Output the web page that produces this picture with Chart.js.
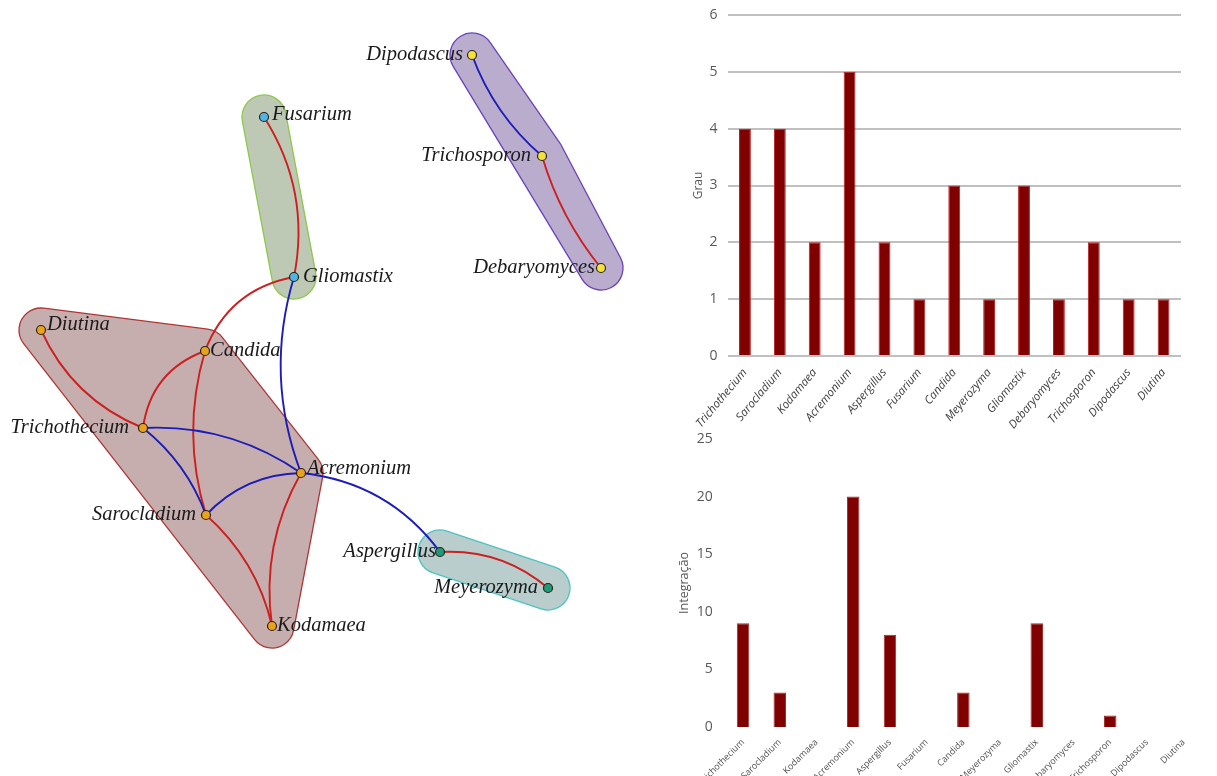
<!DOCTYPE html>
<html><head><meta charset="utf-8">
<script src="https://cdn.jsdelivr.net/npm/chart.js@4.4.1/dist/chart.umd.min.js"></script>
<style>
html,body{margin:0;padding:0;background:#fff;overflow:hidden;width:1217px;height:776px;}
.box{position:absolute;}
</style></head><body>
<div class="box" style="left:0;top:0;width:680px;height:776px"><canvas id="net"></canvas></div>
<div class="box" style="left:680px;top:0;width:537px;height:430px"><canvas id="grau"></canvas></div>
<div class="box" style="left:660px;top:430px;width:557px;height:346px"><canvas id="integ"></canvas></div>
<script>
// ---------- bar chart data ----------
const categories = ['Trichothecium','Sarocladium','Kodamaea','Acremonium','Aspergillus','Fusarium','Candida','Meyerozyma','Gliomastix','Debaryomyces','Trichosporon','Dipodascus','Diutina'];
const grauValues = [4,4,2,5,2,1,3,1,3,1,2,1,1];
const integracaoValues = [9,3,0,20,8,0,3,0,9,0,1,0,0];
const grauTicks = [0,1,2,3,4,5,6];
const integracaoTicks = [0,5,10,15,20,25];

// ---------- network data ----------
const nodeNames = ['Dipodascus','Trichosporon','Debaryomyces','Fusarium','Gliomastix','Diutina','Candida','Trichothecium','Acremonium','Sarocladium','Kodamaea','Aspergillus','Meyerozyma'];
const nodeX = [472,542,601,264,294,41,205,143,301,206,272,440,548];
const nodeY = [55,156,268,117,277,330,351,428,473,515,626,552,588];
const nodeGroup = [0,0,0,1,1,2,2,2,2,2,2,3,3];
const edgeFrom = ['Dipodascus','Trichosporon','Fusarium','Gliomastix','Gliomastix','Diutina','Candida','Candida','Trichothecium','Trichothecium','Sarocladium','Sarocladium','Acremonium','Acremonium','Aspergillus'];
const edgeTo   = ['Trichosporon','Debaryomyces','Gliomastix','Candida','Acremonium','Trichothecium','Trichothecium','Sarocladium','Acremonium','Sarocladium','Acremonium','Kodamaea','Kodamaea','Aspergillus','Meyerozyma'];
const edgeKind = ['blue','red','red','red','blue','red','red','red','blue','blue','blue','red','red','blue','red'];

// ---------- styles ----------
const edgeBend = [0.13,0.1,-0.2,0.28,0.17,0.2,0.3,0.15,-0.17,-0.14,-0.21,-0.16,0.17,-0.22,-0.2];
const labelSide = ['L','L','L','R','R','R','R','L','R','L','R','L','L'];
const labelGap  = [9,11,6,8,9,6,5,14,6,10,5,4,10];
const labelDy   = [0,0,0,-2,0,-5,0,0,-4,0,0,0,0];
const groupNodeColor = ['#f2e23a','#4fb4e6','#e8a21c','#1f9a78'];
const groupHullFill = ['rgba(185,172,204,1)','rgba(190,201,181,1)','rgba(198,174,174,1)','rgba(185,205,205,1)'];
const groupHullStroke = ['#6a40c0','#8cc84a','#b03434','#4cc4c4'];
const edgeColors = {red:'#cc2020', blue:'#1c1cb8'};
const hullPad = 22;

const idx = n => nodeNames.indexOf(n);

function convexHull(pts){
  const p = pts.slice().sort((a,b)=>a.x-b.x||a.y-b.y);
  if (p.length < 3) return p;
  const cross=(o,a,b)=>(a.x-o.x)*(b.y-o.y)-(a.y-o.y)*(b.x-o.x);
  const lo=[],up=[];
  for(const q of p){while(lo.length>=2&&cross(lo[lo.length-2],lo[lo.length-1],q)<=0)lo.pop();lo.push(q);}
  for(let i=p.length-1;i>=0;i--){const q=p[i];while(up.length>=2&&cross(up[up.length-2],up[up.length-1],q)<=0)up.pop();up.push(q);}
  up.pop();lo.pop();return lo.concat(up);
}

const netPlugin = {
  id:'netPlugin',
  beforeDatasetsDraw(chart){
    const ctx = chart.ctx, xs = chart.scales.x, ys = chart.scales.y;
    const P = i => ({x: xs.getPixelForValue(nodeX[i]), y: ys.getPixelForValue(nodeY[i])});
    // hulls
    for (let g=0; g<groupHullFill.length; g++){
      const pts = nodeNames.map((n,i)=>i).filter(i=>nodeGroup[i]===g).map(P);
      let h = convexHull(pts);
      let area=0; for(let i=0;i<h.length;i++){const a=h[i],b=h[(i+1)%h.length];area+=a.x*b.y-b.x*a.y;}
      if (area<0) h=h.reverse();
      const n=h.length;
      ctx.save(); ctx.beginPath();
      for (let i=0;i<n;i++){
        const prev=h[(i-1+n)%n], cur=h[i], next=h[(i+1)%n];
        const d1={x:cur.x-prev.x,y:cur.y-prev.y}, d2={x:next.x-cur.x,y:next.y-cur.y};
        const a1=Math.atan2(-d1.x,d1.y), a2=Math.atan2(-d2.x,d2.y);
        ctx.arc(cur.x,cur.y,hullPad,a1,a2,false);
      }
      ctx.closePath();
      ctx.fillStyle=groupHullFill[g]; ctx.fill();
      ctx.lineWidth=1.3; ctx.strokeStyle=groupHullStroke[g]; ctx.stroke();
      ctx.restore();
    }
    // edges
    ctx.save(); ctx.lineWidth=1.9; ctx.lineCap='round';
    edgeFrom.forEach((f,k)=>{
      const a=P(idx(f)), b=P(idx(edgeTo[k]));
      const dx=b.x-a.x, dy=b.y-a.y, len=Math.hypot(dx,dy);
      const nx=-dy/len, ny=dx/len, off=edgeBend[k]*len;
      const cx=(a.x+b.x)/2+nx*off, cy=(a.y+b.y)/2+ny*off;
      ctx.beginPath(); ctx.moveTo(a.x,a.y); ctx.quadraticCurveTo(cx,cy,b.x,b.y);
      ctx.strokeStyle=edgeColors[edgeKind[k]]; ctx.stroke();
    });
    ctx.restore();
  },
  afterDatasetsDraw(chart){
    const ctx = chart.ctx, xs = chart.scales.x, ys = chart.scales.y;
    ctx.save();
    ctx.font='italic 20.5px "Liberation Serif"'; ctx.fillStyle='#1a1a1a'; ctx.textBaseline='middle';
    nodeNames.forEach((n,i)=>{
      const x=xs.getPixelForValue(nodeX[i]), y=ys.getPixelForValue(nodeY[i])+labelDy[i];
      if (labelSide[i]==='L'){ctx.textAlign='right'; ctx.fillText(n,x-labelGap[i],y);}
      else {ctx.textAlign='left'; ctx.fillText(n,x+labelGap[i],y);}
    });
    ctx.restore();
  }
};

new Chart(document.getElementById('net'), {
  type:'scatter',
  data:{datasets: groupNodeColor.map((c,g)=>({
    data: nodeNames.map((n,i)=>i).filter(i=>nodeGroup[i]===g).map(i=>({x:nodeX[i],y:nodeY[i]})),
    pointRadius:4.5, pointBackgroundColor:c, pointBorderColor:'#2b2210', pointBorderWidth:1.2, showLine:false
  }))},
  options:{responsive:true, maintainAspectRatio:false, animation:false, layout:{padding:0, autoPadding:false},
    plugins:{legend:{display:false}, tooltip:{enabled:false}},
    scales:{x:{type:'linear',min:0,max:680,display:false}, y:{type:'linear',min:0,max:776,reverse:true,display:false}}},
  plugins:[netPlugin]
});

new Chart(document.getElementById('grau'), {
  type:'bar',
  data:{labels:categories, datasets:[{data:grauValues, backgroundColor:'#800000', borderColor:'#b82020', borderWidth:1, barPercentage:0.34, categoryPercentage:1}]},
  options:{responsive:true, maintainAspectRatio:false, animation:false,
    layout:{padding:{top:15,right:36,left:0,bottom:0}},
    plugins:{legend:{display:false}, tooltip:{enabled:false}},
    scales:{
      x:{grid:{display:false}, border:{display:false},
         ticks:{autoSkip:false, maxRotation:50, minRotation:50, color:'#404040', font:{family:'Open Sans', size:11.5, style:'italic'}, padding:2},
         afterFit:s=>{s.height=74;}},
      y:{min:0, max:6, afterBuildTicks:s=>{s.ticks=grauTicks.map(v=>({value:v}));},
         grid:{color:'#c0c0c0', lineWidth:2, drawTicks:false}, border:{display:false},
         ticks:{color:'#595959', font:{family:'Open Sans', size:14}, padding:10},
         title:{display:true, text:'Grau', color:'#595959', font:{family:'Open Sans', size:12}, padding:{top:11,bottom:0}},
         afterFit:s=>{s.width=47.5; s.paddingTop=0; s.paddingBottom=0;}}
    }}
});

new Chart(document.getElementById('integ'), {
  type:'bar',
  data:{labels:categories, datasets:[{data:integracaoValues, backgroundColor:'#800000', borderColor:'#a03030', borderWidth:1, barPercentage:0.34, categoryPercentage:1}]},
  options:{responsive:true, maintainAspectRatio:false, animation:false,
    layout:{padding:{top:9,right:15,left:0,bottom:0}},
    plugins:{legend:{display:false}, tooltip:{enabled:false}},
    scales:{
      x:{grid:{display:false}, border:{display:false},
         ticks:{autoSkip:false, maxRotation:45, minRotation:45, color:'#505050', font:{family:'Open Sans', size:9}, padding:2},
         afterFit:s=>{s.height=49;}},
      y:{min:0, max:25, afterBuildTicks:s=>{s.ticks=integracaoTicks.map(v=>({value:v}));},
         grid:{display:false, drawTicks:false}, border:{display:false},
         ticks:{color:'#595959', font:{family:'Open Sans', size:14}, padding:12},
         title:{display:true, text:'Integração', color:'#595959', font:{family:'Open Sans', size:12.5}, padding:{top:17,bottom:0}},
         afterFit:s=>{s.width=64.7; s.paddingTop=0; s.paddingBottom=0;}}
    }}
});
</script>
</body></html>
